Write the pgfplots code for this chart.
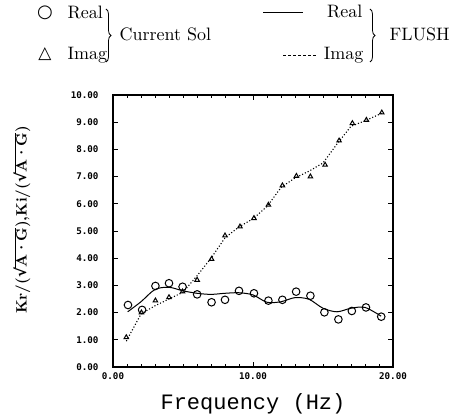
\documentclass[border=0pt]{standalone}
\usepackage{graphicx}
\usepackage{pgfplots}
\pgfplotsset{compat=1.18}
\usepackage{fontspec}
\usetikzlibrary{decorations.pathreplacing}
\newfontfamily\monof{Liberation Mono}
\newfontfamily\tickf{DejaVu Sans Mono}
\newfontfamily\symf{DejaVu Sans}
\newcommand{\ovl}[1]{\vbox{\hrule height 0.6pt\kern 0.5pt\hbox{#1}}}
\newcommand{\rt}{{\symf\bfseries\raisebox{0.3pt}{√}}}
\newcommand{\legtxt}[1]{\scalebox{1.8}{\fontsize{10}{12}\selectfont #1}}
\begin{document}
\begin{tikzpicture}
\useasboundingbox (0pt,0pt) rectangle (459pt,416pt);
\node at (45pt,403pt) {\symf\fontsize{18}{20}\selectfont ○};
\node[anchor=west] at (64pt,404pt) {\legtxt{Real}};
\node at (45pt,362pt) {\symf\fontsize{17}{20}\selectfont △};
\node[anchor=west] at (64pt,361pt) {\legtxt{Imag}};
\draw[decorate, decoration={brace, amplitude=5pt}, line width=0.8pt] (106pt,407pt) -- (106pt,354pt);
\node[anchor=west] at (116pt,382pt) {\legtxt{Current Sol}};
\draw[line width=1pt] (263pt,403pt) -- (303pt,403pt);
\node[anchor=east] at (366pt,405pt) {\legtxt{Real}};
\draw[line width=0.8pt, dash pattern=on 3pt off 2pt] (283pt,361pt) -- (316pt,361pt);
\node[anchor=east] at (367pt,361pt) {\legtxt{Imag}};
\draw[decorate, decoration={brace, amplitude=5pt}, line width=0.8pt] (370pt,407pt) -- (370pt,354pt);
\node[anchor=west] at (386pt,382pt) {\legtxt{FLUSH}};
\node[rotate=90] at (22pt,196pt) {\scalebox{1.5}{\fontsize{10}{12}\selectfont\bfseries Kr/(\rt\ovl{A·G}),Ki/(\rt\ovl{A·G})}};
\node at (253pt,12pt) {\monof\fontsize{22}{24}\selectfont Frequency (Hz)};
\begin{axis}[
  at={(113pt,49pt)}, anchor=south west,
  scale only axis, width=280pt, height=272pt,
  xmin=0, xmax=20, ymin=0, ymax=10,
  xtick={0,10,20}, minor xtick={1,2,...,19},
  ytick={0,1,...,10},
  tick align=inside,
  major tick length=5pt, minor tick length=3pt,
  axis line style={line width=1.1pt},
  every tick/.style={black, line width=0.8pt},
  /pgf/number format/fixed,
  /pgf/number format/fixed zerofill,
  /pgf/number format/precision=2,
  /pgf/number format/assume math mode=true,
  ticklabel style={font=\tickf\bfseries\fontsize{9.2}{10}\selectfont},
  yticklabel style={xshift=-11pt},
  xticklabel style={yshift=-2.5pt},
]
% FLUSH Real (solid)
\addplot[black, line width=1pt, smooth, tension=0.5] coordinates {
(1.05,2.03)(2,2.40)(3,2.85)(4,2.93)(5,2.80)(6,2.71)(7,2.67)(8,2.71)(9,2.73)(10,2.65)
(11,2.38)(12,2.40)(13,2.55)(14,2.49)(15,2.16)(16,2.03)(17,2.16)(18,2.19)(19.15,1.87)};
% FLUSH Imag (dotted)
\addplot[black, line width=1.1pt, dotted] coordinates {
(0.95,0.95)(2,1.95)(3,2.25)(4,2.50)(5,2.75)(6,3.35)(7,4.00)(8,4.75)(9,5.15)(10,5.45)
(11,5.90)(12,6.60)(13,6.95)(14,7.20)(15,7.50)(16,8.20)(17,8.85)(18,9.05)(19.2,9.33)};
% Current Sol Real (circles)
\addplot[only marks, mark=o, mark size=3.8pt, black, line width=1pt] coordinates {
(1.07,2.28)(2.08,2.10)(3.03,2.98)(4,3.08)(4.97,2.95)(6.01,2.67)(7.04,2.38)(8,2.47)(9,2.80)(10.07,2.71)
(11.1,2.44)(12.1,2.47)(13.08,2.77)(14.1,2.62)(15.1,2.01)(16.1,1.75)(17.06,2.06)(18.07,2.19)(19.16,1.85)};
% Current Sol Imag (triangles)
\addplot[only marks, mark=triangle, mark size=2.6pt, black, line width=1pt] coordinates {
(0.95,1.09)(2.03,2.00)(3.03,2.44)(4,2.56)(4.97,2.77)(6.01,3.20)(7.04,3.97)(8,4.83)(9.07,5.16)(10.07,5.47)
(11.1,5.96)(12.1,6.67)(13.1,7.02)(14.1,7.00)(15.15,7.43)(16.15,8.32)(17.1,8.96)(18.1,9.08)(19.2,9.35)};
\end{axis}
\end{tikzpicture}
\end{document}
